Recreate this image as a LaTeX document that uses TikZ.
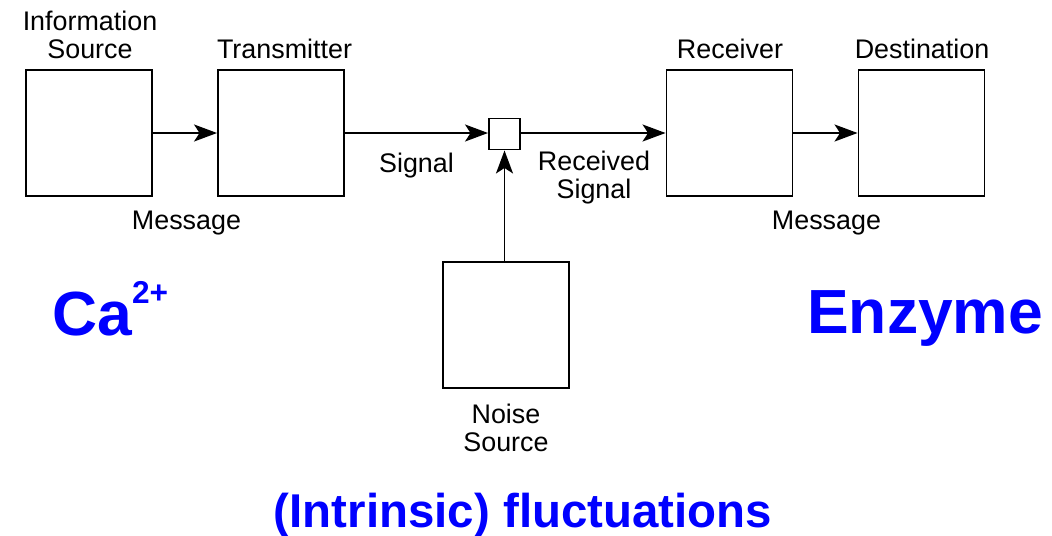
\documentclass[tikz,border=0pt]{standalone}
\usepackage{fontspec}
\setmainfont{Liberation Sans}
\usepackage{xcolor}
\usepackage{tikz}
\usetikzlibrary{positioning,arrows.meta}

\begin{document}
\begin{tikzpicture}[x=0.02cm, y=-0.02cm,
    blk/.style={draw, minimum width=2.52cm, minimum height=2.52cm,
                inner sep=0pt, line width=1.1pt},
    jnc/.style={draw, minimum width=0.62cm, minimum height=0.62cm,
                inner sep=0pt, line width=1.1pt},
    lbl/.style={font=\fontsize{15.3pt}{15.4pt}\selectfont, align=center,
                inner sep=0pt, anchor=base},
    big/.style={font=\fontsize{35.5pt}{36pt}\selectfont\bfseries, text=blue,
                inner sep=0pt},
    arr/.style={-{Stealth[length=4.6mm, width=3.4mm, inset=1.1mm]}, line width=1.1pt},
]
\useasboundingbox (0,0) rectangle (1052,535);

% ===== Channel blocks =====
\node[blk] (src) at (89,133)    {};
\node[blk] (tx)  at (281,133)   {};
\node[jnc] (mix) at (504.5,134) {};
\node[blk] (rx)  at (729.5,133) {};
\node[blk] (dst) at (921.5,133) {};
\node[blk] (ns)  at (506,325)   {};

% ===== Block labels (base = last line) =====
\node[lbl] (lsrc) at (90,58)    {Information\\Source};
\node[lbl] (ltx)  at (284.5,58) {Transmitter};
\node[lbl] (lrx)  at (730,58)   {Receiver};
\node[lbl] (ldst) at (922,58)   {Destination};
\node[lbl] (lns)  at (506,451)  {Noise\\Source};

% ===== Connector labels =====
\node[lbl] (msg1) at (186.5,229) {Message};
\node[lbl] (sig)  at (416.5,172) {Signal};
\node[lbl] (rsig) at (594,198)   {Received\\Signal};
\node[lbl] (msg2) at (826.5,229) {Message};

% ===== Arrows =====
\draw[arr] (src) -- (tx);
\draw[arr] (tx) -- (tx.east -| mix.west);
\draw[arr] (mix.east |- rx.west) -- (rx);
\draw[arr] (rx) -- (dst);
\draw[arr] (ns.north -| mix.south) -- (mix.south);

% ===== Biological analogues =====
\node[big, anchor=base west] (ca) at (52,335)
    {Ca\raisebox{18.2pt}{\fontsize{18pt}{18pt}\selectfont 2+}};
\node[big, anchor=base west] (enz) at (807,333) {Enzyme};
\node[big, anchor=base, font=\fontsize{27pt}{28pt}\selectfont\bfseries] (fluc)
    at (523,527) {(Intrinsic) fluctuations};

\end{tikzpicture}
\end{document}
